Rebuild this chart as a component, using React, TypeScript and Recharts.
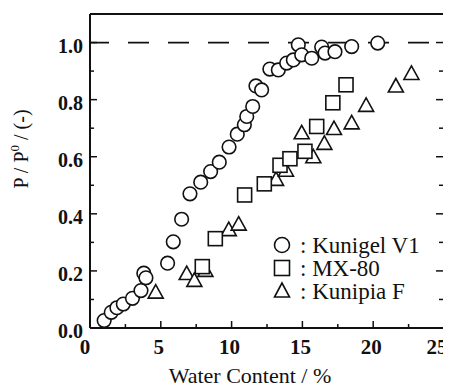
import React from 'react';
import { ScatterChart, Scatter, XAxis, YAxis, ReferenceLine, Legend } from 'recharts';

const SERIF = 'Liberation Serif, Times New Roman, serif';

const kunigelV1 = [
  { x: 1.0, y: 0.026 }, { x: 1.5, y: 0.055 }, { x: 1.9, y: 0.071 }, { x: 2.35, y: 0.084 },
  { x: 3.0, y: 0.104 }, { x: 3.6, y: 0.131 }, { x: 3.8, y: 0.192 }, { x: 3.95, y: 0.176 },
  { x: 5.48, y: 0.227 }, { x: 5.88, y: 0.302 }, { x: 6.47, y: 0.381 }, { x: 7.06, y: 0.47 },
  { x: 7.82, y: 0.511 }, { x: 8.52, y: 0.548 }, { x: 9.13, y: 0.581 }, { x: 9.82, y: 0.634 },
  { x: 10.4, y: 0.679 }, { x: 10.9, y: 0.712 }, { x: 11.07, y: 0.741 }, { x: 11.49, y: 0.776 },
  { x: 11.72, y: 0.848 }, { x: 12.12, y: 0.834 }, { x: 12.7, y: 0.907 }, { x: 13.3, y: 0.904 },
  { x: 13.89, y: 0.928 }, { x: 14.36, y: 0.939 }, { x: 14.71, y: 0.992 }, { x: 14.95, y: 0.957 },
  { x: 15.66, y: 0.945 }, { x: 16.36, y: 0.984 }, { x: 16.6, y: 0.963 }, { x: 17.3, y: 0.968 },
  { x: 18.48, y: 0.986 }, { x: 20.32, y: 0.998 },
];

const mx80 = [
  { x: 7.93, y: 0.215 }, { x: 8.85, y: 0.313 }, { x: 10.92, y: 0.466 }, { x: 12.31, y: 0.505 },
  { x: 13.42, y: 0.57 }, { x: 14.12, y: 0.593 }, { x: 15.18, y: 0.619 }, { x: 16.01, y: 0.706 },
  { x: 17.15, y: 0.789 }, { x: 18.08, y: 0.852 },
];

const kunipiaF = [
  { x: 4.64, y: 0.124 }, { x: 6.83, y: 0.189 }, { x: 7.37, y: 0.165 }, { x: 8.15, y: 0.2 },
  { x: 9.8, y: 0.343 }, { x: 10.5, y: 0.362 }, { x: 13.14, y: 0.519 }, { x: 13.84, y: 0.551 },
  { x: 14.95, y: 0.682 }, { x: 15.77, y: 0.598 }, { x: 16.55, y: 0.645 }, { x: 17.23, y: 0.697 },
  { x: 18.48, y: 0.717 }, { x: 19.5, y: 0.778 }, { x: 21.6, y: 0.846 }, { x: 22.7, y: 0.89 },
];

const seriesNames = ['Kunigel V1', 'MX-80', 'Kunipia F'];
const xTicks = [0, 2.5, 5, 7.5, 10, 12.5, 15, 17.5, 20, 22.5, 25];
const xMajor = [0, 5, 10, 15, 20, 25];
const yTicks = [0, 0.1, 0.2, 0.3, 0.4, 0.5, 0.6, 0.7, 0.8, 0.9, 1.0];
const yMajor = [0, 0.2, 0.4, 0.6, 0.8, 1.0];
const xTitle = 'Water Content / %';

const isMajor = (v: number, list: number[]) => list.some((m) => Math.abs(m - v) < 1e-6);
const INK = '#111';

const BottomTick = (p: any) => {
  const v = p.payload.value;
  const major = isMajor(v, xMajor);
  const shift = v === 25 ? -7 : v === 0 ? -5 : -2;
  return (
    <g>
      <line x1={p.x} y1={p.y} x2={p.x} y2={p.y - (major ? 7 : 4)} stroke={INK} strokeWidth={1.5} />
      {major && (
        <text x={p.x + shift} y={p.y + 26} textAnchor="middle" fontFamily={SERIF} fontWeight="bold" fontSize={21} fill={INK}>
          {v}
        </text>
      )}
    </g>
  );
};

const TopTick = (p: any) => {
  const major = isMajor(p.payload.value, xMajor);
  return <line x1={p.x} y1={p.y} x2={p.x} y2={p.y + (major ? 8 : 4)} stroke={INK} strokeWidth={1.5} />;
};

const LeftTick = (p: any) => {
  const major = isMajor(p.payload.value, yMajor);
  return (
    <g>
      <line x1={p.x} y1={p.y} x2={p.x + (major ? 7 : 4)} y2={p.y} stroke={INK} strokeWidth={1.5} />
      {major && (
        <text x={p.x - 7} y={p.y + 10} textAnchor="end" fontFamily={SERIF} fontWeight="bold" fontSize={20} fill={INK}>
          {Number(p.payload.value).toFixed(1)}
        </text>
      )}
    </g>
  );
};

const RightTick = (p: any) => {
  const major = isMajor(p.payload.value, yMajor);
  return <line x1={p.x} y1={p.y} x2={p.x - (major ? 8 : 5)} y2={p.y} stroke={INK} strokeWidth={1.5} />;
};

const Circle = (p: any) => <circle cx={p.cx} cy={p.cy} r={6.8} fill="#fff" stroke={INK} strokeWidth={1.6} />;
const Square = (p: any) => (
  <rect x={p.cx - 7} y={p.cy - 7} width={14} height={14} fill="#fff" stroke={INK} strokeWidth={1.6} />
);
const Triangle = (p: any) => (
  <polygon
    points={`${p.cx},${p.cy - 8} ${p.cx - 7.5},${p.cy + 5.5} ${p.cx + 7.5},${p.cy + 5.5}`}
    fill="#fff"
    stroke={INK}
    strokeWidth={1.6}
  />
);

const LegendBox = () => {
  const rows = [12, 35, 58];
  return (
    <svg width={178} height={80} style={{ display: 'block' }}>
      <circle cx={10} cy={rows[0]} r={7.5} fill="#fff" stroke={INK} strokeWidth={1.6} />
      <rect x={2.5} y={rows[1] - 7.5} width={15} height={15} fill="#fff" stroke={INK} strokeWidth={1.6} />
      <polygon
        points={`10,${rows[2] - 8} 2.5,${rows[2] + 6} 17.5,${rows[2] + 6}`}
        fill="#fff"
        stroke={INK}
        strokeWidth={1.6}
      />
      {seriesNames.map((n, i) => (
        <text key={n} x={28} y={rows[i] + 7.5} fontFamily={SERIF} fontSize={23} fill={INK}>
          {': ' + n}
        </text>
      ))}
    </svg>
  );
};

const YTitle = (props: any) => {
  const vb = props.viewBox || { x: 0, y: 6, width: 82, height: 314 };
  const cx = vb.x + 13;
  const cy = vb.y + vb.height / 2 - 22;
  return (
    <text
      x={cx}
      y={cy}
      transform={`rotate(-90 ${cx} ${cy})`}
      textAnchor="middle"
      dominantBaseline="central"
      fontFamily={SERIF}
      fontSize={20}
      fill={INK}
    >
      P / P<tspan dy={-7} fontSize={13}>0</tspan>
      <tspan dy={7}> / (-)</tspan>
    </text>
  );
};

const XTitle = (props: any) => {
  const vb = props.viewBox || { x: 82, y: 320, width: 354, height: 60 };
  return (
    <text x={vb.x + vb.width / 2 - 17} y={vb.y + 55} textAnchor="middle" fontFamily={SERIF} fontSize={22} fill={INK}>
      {xTitle}
    </text>
  );
};

export default function App() {
  return (
    <ScatterChart width={443} height={380} margin={{ top: 5, right: 6, bottom: 0, left: 0 }}>
      <XAxis
        xAxisId="b"
        type="number"
        dataKey="x"
        domain={[0, 25]}
        allowDataOverflow
        ticks={xTicks}
        interval={0}
        height={60}
        tickSize={0}
        tickMargin={0}
        tickLine={false}
        axisLine={{ stroke: INK, strokeWidth: 2 }}
        tick={(p: any) => <BottomTick {...p} />}
        label={{ content: (lp: any) => <XTitle {...lp} /> }}
      />
      <XAxis
        xAxisId="t"
        orientation="top"
        type="number"
        domain={[0, 25]}
        allowDataOverflow
        ticks={xTicks}
        interval={0}
        height={1}
        tickSize={0}
        tickMargin={0}
        tickLine={false}
        axisLine={{ stroke: INK, strokeWidth: 2 }}
        tick={(p: any) => <TopTick {...p} />}
      />
      <YAxis
        yAxisId="l"
        type="number"
        dataKey="y"
        domain={[0, 1.1]}
        allowDataOverflow
        ticks={yTicks}
        interval={0}
        width={82}
        tickSize={0}
        tickMargin={0}
        tickLine={false}
        axisLine={{ stroke: INK, strokeWidth: 2 }}
        tick={(p: any) => <LeftTick {...p} />}
        label={{ content: (lp: any) => <YTitle {...lp} /> }}
      />
      <YAxis
        yAxisId="r"
        orientation="right"
        type="number"
        domain={[0, 1.1]}
        allowDataOverflow
        ticks={yTicks}
        interval={0}
        width={1}
        tickSize={0}
        tickMargin={0}
        tickLine={false}
        axisLine={{ stroke: INK, strokeWidth: 2 }}
        tick={(p: any) => <RightTick {...p} />}
      />
      <ReferenceLine
        xAxisId="b"
        yAxisId="l"
        y={1}
        stroke={INK}
        strokeWidth={1.8}
        strokeDasharray="21 19"
        strokeDashoffset={2}
      />
      <Scatter name={seriesNames[2]} data={kunipiaF} xAxisId="b" yAxisId="l" shape={Triangle} isAnimationActive={false} />
      <Scatter name={seriesNames[1]} data={mx80} xAxisId="b" yAxisId="l" shape={Square} isAnimationActive={false} />
      <Scatter name={seriesNames[0]} data={kunigelV1} xAxisId="b" yAxisId="l" shape={Circle} isAnimationActive={false} />
      <Legend
        layout="horizontal"
        verticalAlign="middle"
        align="center"
        wrapperStyle={{ left: 264, top: 225, width: 178, height: 80 }}
        content={() => <LegendBox />}
      />
    </ScatterChart>
  );
}
